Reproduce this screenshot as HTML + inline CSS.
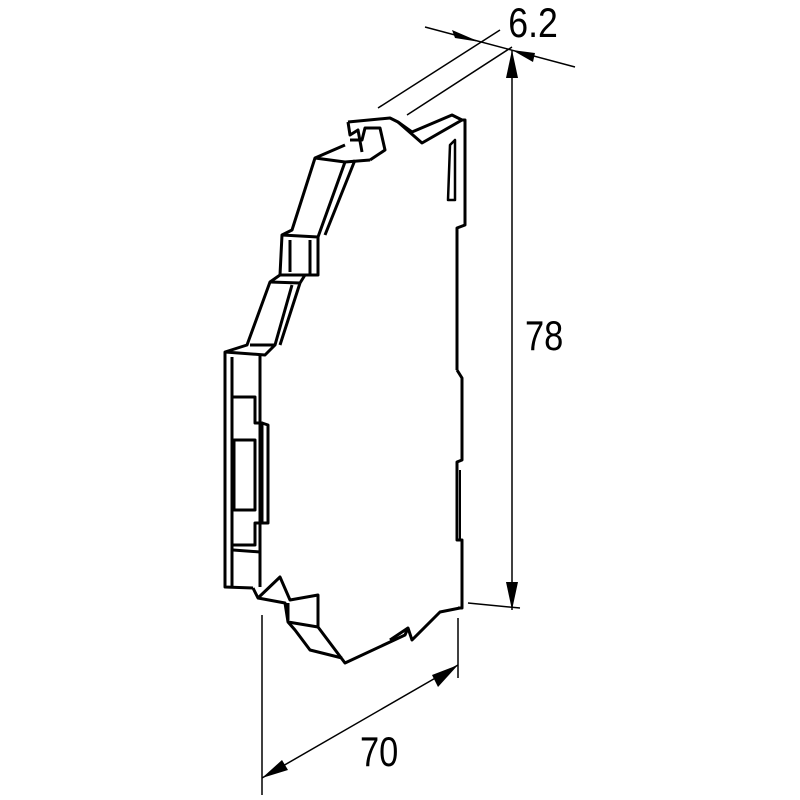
<!DOCTYPE html>
<html><head><style>body{margin:0;background:#fff}svg{display:block}</style></head>
<body>
<svg width="800" height="800" viewBox="0 0 800 800" xmlns="http://www.w3.org/2000/svg">
<g fill="none" stroke="#000" stroke-width="3" stroke-linejoin="round">
<path d="M348,122 L390,118 L398,122 L422,143 L462,120 L465,120 L465,225 L457,228 L457,370"/>
<path d="M398,122 L412,132 L452,115 L462,120"/>
<path d="M350,140 L362,140 L365,128 L380,128 L385,150 L370,160"/>
<path d="M348,122 L350,135 L358,130 L362,152"/>
<path d="M450,145 L455,140 L455,200 L448,200 Z" stroke-width="2.5"/>
<path d="M345,145 L315,158 L292,230 L282,235 L280,275 L270,282 L247,345 L225,352 L225,587 L253,588"/>
<path d="M315,158 L345,162 L370,160"/>
<path d="M345,162 L318,237 M355,160 L325,235"/>
<path d="M282,235 L318,237 L318,275 L280,275 M290,240 L290,272 M310,240 L310,275"/>
<path d="M270,282 L300,283 L305,275 M300,283 L280,345 M292,285 L275,345"/>
<path d="M225,352 L265,355 L275,345 L250,345"/>
<path d="M232,357 L232,587 M260,355 L260,587"/>
<path d="M232,397 L255,397 L255,423 L262,423 L262,523 L255,523 L255,545 L232,545"/>
<path d="M262,423 L268,425 L268,523 L262,523"/>
<path d="M234,440 L255,440 L255,510 L234,510 Z"/>
<path d="M233,550 L260,552"/>
<path d="M457,370 L462,378 L462,460 L457,462 L457,540 L462,540 L462,608 L458,608"/>
<path d="M460,470 L460,540" stroke-width="2"/>
<path d="M253,588 L258,598 L280,577 L290,600 L318,595 L318,627 L345,663 L405,635 L408,628 L412,640 L440,612 L460,608"/>
<path d="M258,598 L285,603 L288,622 L318,627 M288,622 L295,630 L310,650 L342,658"/>
<path d="M288,603 L288,620"/>
<path d="M390,640 L408,628"/>
</g>
<g stroke="#000" stroke-width="1.5" fill="none">
<line x1="378" y1="108" x2="500" y2="30"/>
<line x1="407" y1="115" x2="512" y2="47"/>
<line x1="425" y1="27" x2="575" y2="67"/>
<line x1="512" y1="50" x2="512" y2="610"/>
<line x1="468" y1="603" x2="520" y2="608"/>
<line x1="262" y1="615" x2="262" y2="795"/>
<line x1="458" y1="618" x2="458" y2="678"/>
<line x1="262" y1="778" x2="458" y2="665"/>
</g>
<g fill="#000">
<polygon points="480,42 452,30 455,38"/>
<polygon points="512,50 535,53 533,62"/>
<polygon points="512,50 506,78 518,78"/>
<polygon points="512,610 506,582 518,582"/>
<polygon points="262,778 282,760 288,770"/>
<polygon points="458,665 432,675 438,687"/>
</g>
<g font-family="Liberation Sans, sans-serif" font-size="42" fill="#000">
<text x="508" y="37" transform="scale(0.85,1) translate(90,0)">6.2</text>
<text x="525" y="350" transform="translate(525,350) scale(0.82,1) translate(-525,-350)">78</text>
<text x="360" y="766" transform="translate(360,766) scale(0.82,1) translate(-360,-766)">70</text>
</g>
</svg>
</body></html>
